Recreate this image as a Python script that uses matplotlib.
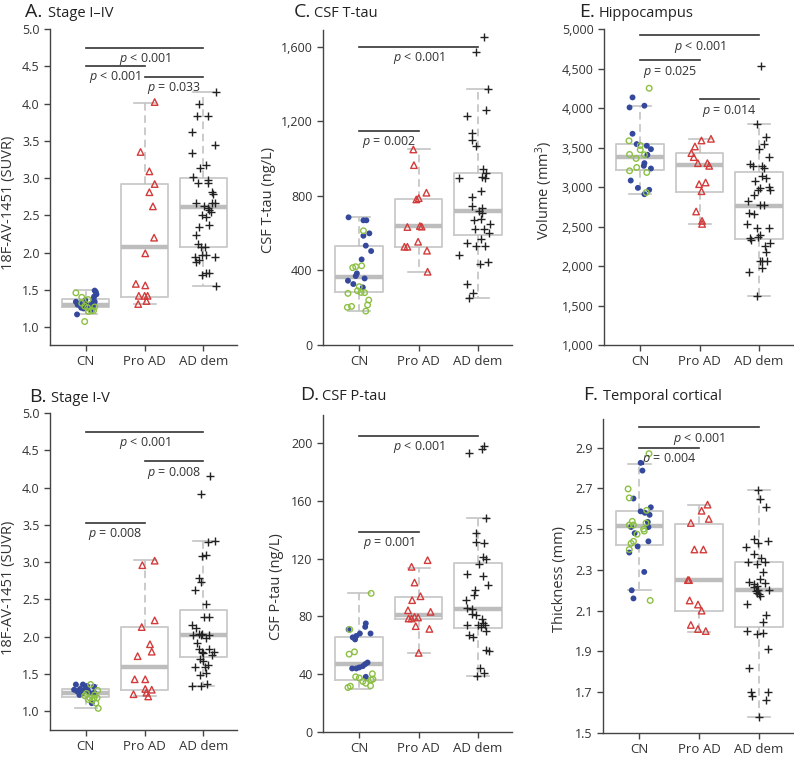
import matplotlib
matplotlib.use('Agg')
import matplotlib.pyplot as plt
from matplotlib.ticker import FuncFormatter

plt.rcParams['font.family'] = ['Open Sans', 'DejaVu Sans']
plt.rcParams['mathtext.fontset'] = 'custom'
plt.rcParams['mathtext.it'] = 'Open Sans:italic'
plt.rcParams['mathtext.rm'] = 'Open Sans'

GROUPS = ['CN', 'Pro AD', 'AD dem']

# points are (jitter offset, value); boxes are (whislo, q1, median, q3, whishi) per group
# A. Stage I-IV (SUVR)
A_CN_BLUE = [(-0.17, 1.34), (-0.14, 1.30), (-0.10, 1.32), (-0.01, 1.36), (0.0, 1.30), (-0.08, 1.26),
             (0.06, 1.26), (-0.15, 1.17), (0.10, 1.32), (0.14, 1.41), (0.17, 1.47), (0.18, 1.44),
             (0.15, 1.34), (0.12, 1.28), (0.10, 1.22), (-0.04, 1.25), (0.15, 1.49), (0.13, 1.38)]
A_CN_GREEN = [(-0.17, 1.46), (-0.07, 1.40), (0.04, 1.37), (-0.07, 1.32), (0.03, 1.26), (0.04, 1.21),
              (0.09, 1.22), (0.13, 1.22), (-0.02, 1.075), (-0.02, 1.28), (0.15, 1.27)]
A_PRO = [(0.17, 4.02), (-0.07, 3.35), (0.08, 3.09), (0.17, 2.92), (0.08, 2.81), (0.14, 2.62), (0.16, 2.20),
         (0.01, 1.99), (-0.15, 1.58), (0.01, 1.56), (-0.10, 1.42), (0.0, 1.42), (0.05, 1.42), (0.03, 1.35),
         (-0.11, 1.31)]
A_AD = [(0.21, 4.16), (-0.07, 4.0), (-0.11, 3.83), (0.08, 3.83), (-0.20, 3.62), (0.19, 3.44), (-0.20, 3.34),
        (0.04, 3.18), (-0.06, 3.13), (-0.18, 3.02), (-0.10, 2.94), (0.08, 2.98), (0.07, 2.94), (0.15, 2.81),
        (0.16, 2.78), (-0.12, 2.66), (0.15, 2.67), (0.19, 2.67), (0.01, 2.62), (0.07, 2.60), (0.10, 2.57),
        (-0.02, 2.51), (0.04, 2.48), (0.13, 2.54), (0.10, 2.37), (-0.07, 2.35), (-0.13, 2.24), (-0.09, 2.12),
        (-0.05, 2.07), (0.03, 2.08), (-0.03, 1.97), (0.04, 1.97), (0.20, 1.94), (-0.15, 1.94), (-0.07, 1.90),
        (-0.12, 1.87), (-0.03, 1.70), (0.05, 1.73), (0.09, 1.73), (0.21, 1.55)]
A_BOX = [(1.17, 1.27, 1.30, 1.38, 1.50), (1.31, 1.41, 2.08, 2.92, 4.01), (1.55, 2.07, 2.61, 3.00, 4.15)]
A_SIG = [(1, 3, 4.75, '< 0.001'), (1, 2, 4.51, '< 0.001'), (2, 3, 4.36, '= 0.033')]

# B. Stage I-V (SUVR)
B_CN_BLUE = [(-0.17, 1.36), (-0.10, 1.30), (-0.05, 1.36), (-0.15, 1.27), (-0.02, 1.29), (0.02, 1.34),
             (-0.07, 1.24), (0.06, 1.25), (0.14, 1.25), (0.10, 1.11), (0.14, 1.33), (-0.20, 1.29),
             (-0.11, 1.22), (0.03, 1.29)]
B_CN_GREEN = [(0.08, 1.36), (0.20, 1.28), (-0.02, 1.21), (0.07, 1.18), (0.14, 1.18), (0.19, 1.18), (0.11, 1.15),
              (0.17, 1.11), (0.21, 1.04), (0.01, 1.24), (0.04, 1.16), (0.15, 1.22)]
B_PRO = [(0.17, 3.02), (-0.04, 2.96), (0.17, 2.22), (-0.05, 2.13), (0.09, 1.90), (0.12, 1.80), (-0.12, 1.74),
         (-0.17, 1.43), (0.01, 1.43), (-0.19, 1.23), (0.01, 1.30), (0.03, 1.25), (0.12, 1.29), (0.06, 1.20)]
B_AD = [(0.11, 4.15), (-0.04, 3.92), (0.08, 3.27), (0.20, 3.29), (-0.03, 3.08), (0.04, 3.10), (-0.07, 2.79),
        (-0.05, 2.73), (-0.14, 2.63), (0.04, 2.44), (0.01, 2.27), (0.10, 2.26), (-0.19, 2.16), (-0.13, 2.12),
        (-0.08, 2.04), (-0.03, 2.04), (-0.17, 2.03), (-0.04, 2.02), (0.10, 2.02), (-0.11, 1.91), (-0.08, 1.83),
        (0.10, 1.84), (-0.02, 1.80), (0.18, 1.80), (0.15, 1.75), (-0.01, 1.68), (-0.14, 1.59), (0.02, 1.60),
        (0.08, 1.62), (-0.06, 1.49), (0.05, 1.51), (-0.19, 1.34), (-0.04, 1.34), (0.06, 1.37), (0.0, 1.78),
        (-0.06, 1.70), (0.04, 1.99)]
B_BOX = [(1.05, 1.19, 1.25, 1.30, 1.36), (1.20, 1.28, 1.59, 2.13, 3.03), (1.34, 1.73, 2.03, 2.36, 3.29)]
B_SIG = [(1, 3, 4.75, '< 0.001'), (2, 3, 4.35, '= 0.008'), (1, 2, 3.53, '= 0.008')]

# C. CSF T-tau (ng/L)
C_CN_BLUE = [(-0.18, 685), (0.07, 669), (0.12, 669), (0.07, 586), (0.17, 599), (0.11, 533), (0.20, 504),
             (0.04, 459), (-0.04, 384), (-0.06, 370), (0.09, 357), (-0.19, 345), (-0.10, 327), (0.06, 309)]
C_CN_GREEN = [(0.07, 613), (-0.11, 415), (-0.06, 420), (0.04, 425), (-0.19, 277), (-0.03, 291), (0.03, 282),
              (0.09, 281), (0.16, 241), (0.14, 215), (-0.20, 202), (-0.13, 207), (0.11, 182), (0.0, 313)]
C_PRO = [(-0.09, 1049), (-0.08, 965), (0.13, 817), (0.0, 788), (-0.04, 781), (-0.19, 633), (0.02, 638),
         (0.05, 635), (-0.24, 527), (-0.19, 527), (-0.01, 554), (0.14, 506), (0.15, 393)]
C_AD = [(0.10, 1650), (-0.04, 1570), (0.16, 1371), (0.14, 1260), (-0.18, 1228), (-0.10, 1139), (-0.11, 1099),
        (-0.04, 1069), (0.09, 942), (0.14, 924), (-0.33, 894), (0.06, 903), (0.11, 894), (0.05, 828),
        (-0.10, 796), (-0.11, 747), (0.06, 733), (0.02, 720), (0.06, 706), (-0.07, 670), (0.05, 674),
        (0.20, 647), (-0.06, 620), (0.10, 620), (0.18, 602), (0.04, 570), (-0.18, 545), (-0.03, 531),
        (0.12, 531), (-0.33, 483), (0.16, 443), (0.03, 434), (-0.18, 325), (-0.08, 281), (-0.16, 250)]
C_BOX = [(182, 282, 363, 533, 685), (393, 527, 638, 781, 1049), (250, 588, 720, 924, 1371)]
C_SIG = [(1, 3, 1600, '< 0.001'), (1, 2, 1150, '= 0.002')]

# D. CSF P-tau (ng/L)
D_CN_BLUE = [(-0.18, 71.0), (0.11, 75.2), (0.10, 72.8), (0.01, 68.2), (0.19, 68.2), (-0.11, 65.5),
             (-0.07, 64.1), (-0.05, 66.5), (-0.12, 44.0), (-0.05, 44.0), (0.0, 44.7), (0.06, 45.6),
             (0.10, 47.0), (0.14, 48.1), (0.11, 38.2)]
D_CN_GREEN = [(0.20, 96), (-0.16, 71.0), (-0.17, 53.9), (-0.08, 55.5), (-0.06, 38.2), (0.0, 37.4), (0.06, 35.0),
              (0.11, 33.8), (0.20, 36.1), (0.23, 36.6), (0.19, 32.0), (0.22, 40.3), (-0.19, 30.8), (-0.15, 31.7)]
D_PRO = [(0.15, 119), (-0.12, 114.4), (-0.07, 103.5), (0.03, 94.0), (-0.11, 91.3), (-0.18, 84.3), (0.20, 83.2),
         (-0.17, 78.6), (-0.12, 78.6), (-0.07, 79.7), (-0.01, 79.3), (-0.05, 73.3), (0.18, 71.4), (0.0, 54.8)]
D_AD = [(-0.16, 193.4), (0.07, 196), (0.10, 198), (0.14, 147.9), (-0.04, 138), (-0.03, 131.3), (0.10, 131),
        (0.08, 121.3), (0.14, 119.5), (0.02, 116), (-0.19, 109.3), (0.08, 107.9), (0.16, 102.1), (-0.06, 98.2),
        (-0.07, 95.2), (-0.20, 91.7), (-0.18, 86.2), (-0.10, 85.5), (-0.11, 82), (-0.04, 81.3), (0.06, 77.9),
        (0.08, 75.8), (-0.18, 73.9), (-0.01, 73.9), (0.11, 73.9), (0.04, 72.8), (0.13, 70.0), (-0.15, 67.0),
        (-0.09, 65.9), (0.13, 57.1), (0.18, 56.2), (0.03, 44.4), (0.10, 40.9), (-0.02, 38.8)]
D_BOX = [(30, 35.8, 47.4, 65.9, 96), (54.8, 77.9, 80.9, 93.6, 113.8), (38.8, 71.7, 85.3, 117.2, 148)]
D_SIG = [(1, 3, 205, '< 0.001'), (1, 2, 138.6, '= 0.001')]

# E. Hippocampus volume (mm3)
E_CN_BLUE = [(-0.13, 4134), (-0.18, 4007), (0.07, 4029), (-0.13, 3674), (-0.06, 3543), (0.11, 3522),
             (0.18, 3479), (0.12, 3408), (0.07, 3302), (0.06, 3268), (0.18, 3234), (-0.16, 3082),
             (-0.04, 2989), (0.15, 2964), (0.07, 2909)]
E_CN_GREEN = [(0.15, 4250), (-0.19, 3585), (0.0, 3526), (0.0, 3471), (-0.18, 3412), (-0.07, 3361), (0.07, 3408),
              (-0.06, 3247), (-0.18, 3205), (0.11, 3184), (0.10, 2930)]
E_PRO = [(-0.08, 3513), (0.03, 3589), (0.19, 3610), (-0.14, 3429), (-0.10, 3378), (-0.03, 3302), (0.13, 3302),
         (0.16, 3268), (-0.01, 3036), (0.10, 3057), (0.03, 2947), (-0.06, 2690), (0.04, 2571), (0.04, 2533)]
E_AD = [(0.03, 4527), (-0.03, 3800), (0.12, 3627), (0.08, 3543), (0.0, 3479), (0.16, 3386), (-0.15, 3289),
        (-0.11, 3268), (0.05, 3272), (0.09, 3239), (0.05, 3142), (0.11, 3108), (-0.07, 3070), (0.01, 2985),
        (-0.02, 2964), (0.17, 3006), (0.18, 2964), (-0.08, 2901), (-0.19, 2829), (0.02, 2766), (0.08, 2766),
        (-0.17, 2677), (-0.08, 2656), (-0.20, 2534), (-0.04, 2480), (0.16, 2480), (0.02, 2395), (-0.02, 2365),
        (-0.16, 2352), (-0.13, 2330), (0.10, 2254), (0.19, 2288), (0.12, 2183), (0.01, 2064), (0.04, 2064),
        (0.14, 2064), (0.04, 1980), (-0.17, 1921), (-0.04, 1625)]
E_BOX = [(2909, 3213, 3386, 3543, 4029), (2529, 2935, 3281, 3429, 3610), (1621, 2339, 2761, 3184, 3800)]
E_SIG = [(1, 3, 4920, '< 0.001'), (1, 2, 4603, '= 0.025'), (2, 3, 4113, '= 0.014')]

# F. Temporal cortical thickness (mm)
F_CN_BLUE = [(0.02, 2.825), (0.05, 2.787), (-0.10, 2.65), (0.19, 2.607), (0.02, 2.587), (0.09, 2.58),
             (0.17, 2.57), (0.14, 2.535), (0.15, 2.51), (-0.14, 2.51), (-0.08, 2.48), (0.15, 2.44),
             (-0.17, 2.385), (-0.03, 2.415), (0.08, 2.29), (-0.13, 2.20), (-0.10, 2.16)]
F_CN_GREEN = [(0.16, 2.87), (-0.19, 2.697), (-0.17, 2.653), (0.12, 2.592), (-0.12, 2.538), (-0.17, 2.52),
              (-0.10, 2.52), (0.07, 2.50), (-0.04, 2.475), (0.08, 2.49), (0.11, 2.53), (-0.14, 2.43),
              (-0.10, 2.44), (-0.17, 2.40), (0.18, 2.15)]
F_PRO = [(0.14, 2.62), (0.04, 2.59), (0.16, 2.55), (-0.14, 2.53), (-0.08, 2.40), (0.07, 2.40), (-0.19, 2.25),
         (-0.17, 2.25), (-0.16, 2.15), (-0.02, 2.13), (0.04, 2.10), (-0.14, 2.03), (-0.02, 2.01), (0.11, 2.0)]
F_AD = [(-0.02, 2.69), (0.02, 2.65), (0.11, 2.61), (-0.08, 2.45), (0.15, 2.44), (-0.21, 2.41), (-0.01, 2.43),
        (-0.08, 2.38), (-0.19, 2.34), (-0.03, 2.33), (0.10, 2.34), (0.03, 2.36), (0.07, 2.29), (-0.17, 2.24),
        (0.01, 2.255), (0.10, 2.235), (-0.09, 2.23), (-0.08, 2.215), (-0.04, 2.22), (-0.02, 2.20), (-0.05, 2.195),
        (0.0, 2.18), (0.16, 2.20), (0.02, 2.17), (-0.03, 2.185), (-0.20, 2.135), (0.11, 2.08), (0.07, 2.045),
        (-0.20, 2.0), (-0.03, 1.985), (0.06, 1.99), (0.15, 1.91), (-0.17, 1.82), (-0.13, 1.70), (-0.11, 1.68),
        (0.15, 1.70), (0.11, 1.66), (0.0, 1.58)]
F_BOX = [(2.20, 2.42, 2.516, 2.59, 2.82), (1.995, 2.10, 2.25, 2.524, 2.62), (1.58, 2.02, 2.20, 2.34, 2.69)]
F_SIG = [(1, 3, 3.0, '< 0.001'), (1, 2, 2.9, '= 0.004')]

W, H = 794, 757
fig = plt.figure(figsize=(W / 100, H / 100), dpi=100)

GRAY = '#444444'


def make_axes(left, right, top, bottom):
    return fig.add_axes([left / W, 1 - bottom / H, (right - left) / W, (bottom - top) / H])


def draw_panel(ax, cn_blue, cn_green, pro, ad, box, sig, ylim, yticks, fmt, ylabel, label_xy):
    stats = [dict(whislo=b[0], q1=b[1], med=b[2], q3=b[3], whishi=b[4], fliers=[]) for b in box]
    ax.bxp(stats, positions=[1, 2, 3], widths=0.8, showfliers=False, capwidths=0.37,
           boxprops=dict(color='#c9c9c9', lw=1.3),
           medianprops=dict(color='#bdbdbd', lw=3.2),
           whiskerprops=dict(color='#bdbdbd', lw=1.1, linestyle=(0, (5, 3))),
           capprops=dict(color='#c4c4c4', lw=1.2))

    ax.scatter([1 + d for d, v in cn_blue], [v for d, v in cn_blue], s=18, color='#34489c',
               edgecolors='none', zorder=3)
    ax.scatter([1 + d for d, v in cn_green], [v for d, v in cn_green], s=16, facecolors='none',
               edgecolors='#8cc043', linewidths=1.0, zorder=3)
    ax.scatter([2 + d for d, v in pro], [v for d, v in pro], s=22, marker='^', facecolors='none',
               edgecolors='#d33b3b', linewidths=1.0, zorder=3)
    ax.scatter([3 + d for d, v in ad], [v for d, v in ad], s=40, marker='+', color='#222222',
               linewidths=1.0, zorder=3)

    for g1, g2, y, txt in sig:
        ax.plot([g1, g2], [y, y], color='#333333', lw=1.2, zorder=4)
        ax.annotate(r'$p$ ' + txt, xy=((g1 + g2) / 2, y), xytext=(0, -2.5), textcoords='offset points',
                    ha='center', va='top', fontsize=9, color='#333333', zorder=5)

    ax.set_xlim(0.39, 3.57)
    ax.set_ylim(*ylim)
    ax.set_xticks([1, 2, 3])
    ax.set_xticklabels(GROUPS)
    ax.set_yticks(yticks)
    ax.yaxis.set_major_formatter(FuncFormatter(fmt))
    ax.set_ylabel(ylabel, fontsize=10.5, color='#333333')
    ax.yaxis.set_label_coords(*label_xy)
    for s in ['top', 'right']:
        ax.spines[s].set_visible(False)
    for s in ['left', 'bottom']:
        ax.spines[s].set_color(GRAY)
        ax.spines[s].set_linewidth(1.0)
    ax.tick_params(direction='out', length=4, width=1, color=GRAY, labelsize=9, labelcolor='#333333')
    ax.tick_params(axis='x', labelsize=9.5, pad=3)


one_dec = lambda v, p: f'{v:.1f}'
comma = lambda v, p: f'{int(round(v)):,}'
plain = lambda v, p: f'{int(round(v))}'

axA = make_axes(50, 237, 29, 345)
draw_panel(axA, A_CN_BLUE, A_CN_GREEN, A_PRO, A_AD, A_BOX, A_SIG, (0.76, 5.0),
           [1.0, 1.5, 2.0, 2.5, 3.0, 3.5, 4.0, 4.5, 5.0], one_dec, '18F-AV-1451 (SUVR)', (-0.18, 0.45))

axB = make_axes(50, 237, 413, 730)
draw_panel(axB, B_CN_BLUE, B_CN_GREEN, B_PRO, B_AD, B_BOX, B_SIG, (0.75, 5.0),
           [1.0, 1.5, 2.0, 2.5, 3.0, 3.5, 4.0, 4.5, 5.0], one_dec, '18F-AV-1451 (SUVR)', (-0.18, 0.45))

axC = make_axes(323, 512, 30, 345)
draw_panel(axC, C_CN_BLUE, C_CN_GREEN, C_PRO, C_AD, C_BOX, C_SIG, (0, 1690),
           [0, 400, 800, 1200, 1600], comma, 'CSF T-tau (ng/L)', (-0.25, 0.46))

axD = make_axes(323, 512, 415, 732)
draw_panel(axD, D_CN_BLUE, D_CN_GREEN, D_PRO, D_AD, D_BOX, D_SIG, (0, 219.5),
           [0, 40, 80, 120, 160, 200], plain, 'CSF P-tau (ng/L)', (-0.205, 0.46))

axE = make_axes(604, 793, 29, 345)
draw_panel(axE, E_CN_BLUE, E_CN_GREEN, E_PRO, E_AD, E_BOX, E_SIG, (1000, 5000),
           [1000, 1500, 2000, 2500, 3000, 3500, 4000, 4500, 5000], comma, 'Volume (mm$^3$)', (-0.257, 0.49))

axF = make_axes(603, 793, 419, 733)
draw_panel(axF, F_CN_BLUE, F_CN_GREEN, F_PRO, F_AD, F_BOX, F_SIG, (1.5, 3.04),
           [1.5, 1.7, 1.9, 2.1, 2.3, 2.5, 2.7, 2.9], one_dec, 'Thickness (mm)', (-0.187, 0.49))

# panel titles
titles = [('A.', 'Stage I\u2013IV', 25, 48, 17), ('C.', 'CSF T-tau', 294, 314, 17),
          ('E.', 'Hippocampus', 579, 599, 17), ('B.', 'Stage I-V', 29, 51, 402),
          ('D.', 'CSF P-tau', 300, 322, 400), ('F.', 'Temporal cortical', 583, 603, 400)]
for letter, name, x1, x2, yb in titles:
    fig.text(x1 / W, 1 - yb / H, letter, fontsize=14, color='#222222', va='baseline')
    fig.text(x2 / W, 1 - yb / H, name, fontsize=10.5, color='#222222', va='baseline')

fig.savefig('out.png', dpi=100)
